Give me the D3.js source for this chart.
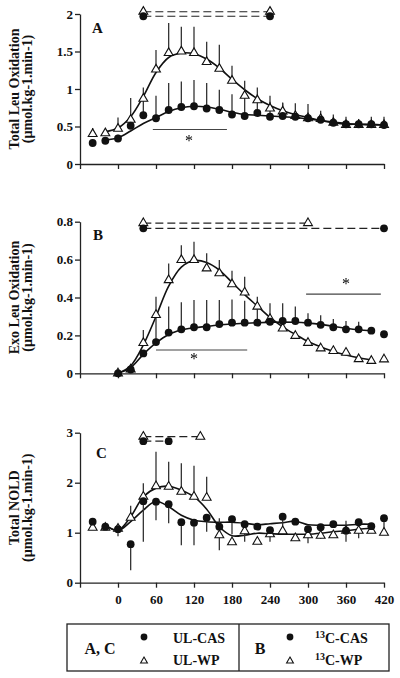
<!DOCTYPE html>
<html><head><meta charset="utf-8">
<script src="https://cdn.jsdelivr.net/npm/d3@7/dist/d3.min.js"></script>
<style>body{margin:0;background:#fff}svg{display:block}</style>
</head><body>
<svg id="c" width="400" height="678"><defs><filter id="gs" x="-50%" y="-50%" width="200%" height="200%"><feOffset dx="0" dy="0"/></filter></defs></svg>
<script>
// ---------- data ----------
const times  = [-40,-20,0,20,40,60,80,100,120,140,160,180,200,220,240,260,280,300,320,340,360,380,400,420];
const timesB = [0,20,40,60,80,100,120,140,160,180,200,220,240,260,280,300,320,340,360,380,400,420];
const fitTimesA = [-20,0,20,40,60,80,100,120,140,160,180,200,220,240,260,280,300,320,340,360,380,400,420];
const fitTimesB = [0,20,40,60,80,100,120,140,160,180,200,220,240,260,280,300,320,340,360,380,400];
const fitTimesC = [-20,0,20,40,60,80,100,120,140,160,180,200,220,240,260,280,300,320,340,360,380,400];
const xTicks = [-60,0,60,120,180,240,300,360,420];

// Panel A: Total Leu Oxidation
const casA    = [0.28,0.31,0.34,0.51,0.65,0.61,0.72,0.76,0.77,0.74,0.72,0.66,0.64,0.68,0.63,0.64,0.63,0.61,0.59,0.55,0.53,0.53,0.53,0.52];
const casAerr = [0,0,0.05,0.10,0.22,0.30,0.36,0.34,0.35,0.34,0.27,0.27,0.25,0.25,0.20,0.17,0.18,0.19,0.12,0.11,0.10,0.07,0.10,0.11];
const wpA     = [0.40,0.41,0.47,0.59,0.87,1.26,1.48,1.50,1.48,1.36,1.27,1.11,0.91,0.85,0.74,0.70,0.64,0.61,0.60,0.55,0.52,0.52,0.52,0.52];
const wpAerr  = [0.08,0,0.15,0.29,0.15,0.26,0.40,0.33,0.35,0.27,0.32,0.20,0.20,0.17,0.17,0.12,0,0,0,0,0,0,0,0];
const casAfit = [0.32,0.35,0.44,0.54,0.62,0.70,0.75,0.77,0.76,0.73,0.69,0.66,0.65,0.64,0.63,0.62,0.60,0.58,0.56,0.54,0.53,0.53,0.52];
const wpAfit  = [0.43,0.48,0.63,0.90,1.22,1.42,1.48,1.47,1.40,1.28,1.13,0.99,0.87,0.78,0.71,0.66,0.62,0.58,0.55,0.53,0.53,0.52,0.52];
const yTicksA = [0,0.5,1,1.5,2];

// Panel B: Exo Leu Oxidation
const casB    = [0,0.02,0.105,0.165,0.215,0.232,0.243,0.243,0.26,0.267,0.267,0.267,0.272,0.276,0.276,0.267,0.256,0.243,0.232,0.232,0.225,0.206];
const casBerr = [0,0,0,0.14,0.137,0.143,0.144,0.144,0.127,0.123,0.116,0.10,0.098,0.094,0.076,0.05,0.05,0.044,0.044,0.04,0,0];
const wpB     = [0,0.02,0.16,0.308,0.492,0.598,0.598,0.554,0.528,0.47,0.427,0.352,0.287,0.237,0.198,0.161,0.132,0.118,0.109,0.075,0.066,0.074];
const wpBerr  = [0,0,0.068,0.096,0.088,0.078,0.096,0.079,0.07,0.071,0.083,0.052,0,0,0,0,0,0,0,0,0,0];
const casBfit = [0,0.03,0.10,0.16,0.205,0.228,0.24,0.248,0.255,0.26,0.264,0.267,0.269,0.27,0.269,0.265,0.258,0.248,0.238,0.23,0.225];
const wpBfit  = [0,0.04,0.15,0.30,0.46,0.56,0.595,0.585,0.545,0.48,0.415,0.355,0.295,0.245,0.205,0.168,0.14,0.115,0.097,0.082,0.07];
const yTicksB = [0,0.2,0.4,0.6,0.8];

// Panel C: Total NOLD (signed errors: + up, - down)
const casC    = [1.22,1.12,1.07,0.77,1.63,1.62,1.57,1.21,1.20,1.30,1.12,1.27,1.17,1.12,1.05,1.32,1.22,1.07,1.11,1.17,1.04,1.21,1.13,1.29];
const casCerr = [0,0,-0.14,-0.52,-0.81,-0.37,-0.38,-0.46,-0.45,-0.28,0.17,-0.30,0,0,0,-0.25,0,0,0,0,0.20,0,0,-0.28];
const wpC     = [1.10,1.10,1.08,1.30,1.72,1.93,1.92,1.82,1.72,1.70,0.95,0.81,1.03,0.82,0.97,1.03,0.89,0.95,0.94,0.95,1.04,1.04,1.04,1.00];
const wpCerr  = [0,0.06,0,0.24,0.27,0.69,0.50,0.57,0.62,0.42,-0.30,0,-0.21,0,-0.15,0,0,-0.16,-0.06,0,-0.22,-0.15,0,0];
const casCfit = [1.15,1.04,1.22,1.45,1.63,1.52,1.35,1.25,1.22,1.21,1.21,1.19,1.16,1.18,1.20,1.23,1.16,1.15,1.15,1.15,1.17,1.17];
const wpCfit  = [1.15,1.05,1.32,1.72,1.89,1.93,1.85,1.72,1.47,1.12,0.94,0.95,0.99,0.98,0.97,0.97,0.97,0.99,1.02,1.04,1.07,1.09];
const yTicksC = [0,1,2,3];

// significance markers
const sigDashA = [{s:"wp",x0:40,x1:240,y:2.03},{s:"cas",x0:40,x1:240,y:1.97}];
const sigDashB = [{s:"wp",x0:40,x1:300,y:0.793},{s:"cas",x0:40,x1:420,y:0.765}];
const sigDashC = [{s:"wp",x0:40,x1:130,y:2.92},{s:"cas",x0:40,x1:80,y:2.83}];
const starA = [{x0:55,x1:172,y:0.46,sx:112,sy:0.31}];
const starB = [{x0:60,x1:204,y:0.123,sx:120,sy:0.08},{x0:297,x1:415,y:0.418,sx:360,sy:0.476}];

// ---------- drawing ----------
const FONT = "'Liberation Serif','Times New Roman',serif";
const svg = d3.select("#c");
const x = d3.scaleLinear().domain([-60,420]).range([80,384]);
const triSym = d3.symbol().type(d3.symbolTriangle).size(34);
const dotR = 3.9;

function panel(o){
  const y = d3.scaleLinear().domain(o.ydom).range(o.yrange);
  const g = svg.append("g");
  const ax = g.append("g").attr("transform",`translate(0,${o.yrange[0]})`)
    .call(d3.axisBottom(x).tickValues(xTicks).tickSize(5).tickSizeOuter(0).tickPadding(7)
      .tickFormat(d => o.xlabels && d>=0 ? d : ""));
  const ay = g.append("g").attr("transform","translate(80,0)")
    .call(d3.axisLeft(y).tickValues(o.yticks).tickSize(5).tickSizeOuter(0).tickPadding(2)
      .tickFormat(d => String(d)));
  [ax,ay].forEach(a=>{
    a.selectAll("path,line").attr("stroke","#222").attr("stroke-width",1.3);
    a.selectAll("text").attr("font-family",FONT).attr("font-weight","bold").attr("font-size",13).attr("fill","#111");
  });
  const cy = (o.yrange[0]+o.yrange[1])/2;
  const t = g.append("text").attr("transform",`translate(19,${cy}) rotate(-90)`)
    .attr("text-anchor","middle").attr("font-family",FONT).attr("font-weight","bold").attr("font-size",14).attr("fill","#111");
  t.append("tspan").attr("x",0).attr("y",0).text(o.title);
  t.append("tspan").attr("x",0).attr("y",13).text("(\u00b5mol.kg-1.min-1)");
  g.append("text").attr("x",o.lx).attr("y",o.ly).attr("font-family",FONT).attr("font-weight","bold")
    .attr("font-size",15).attr("fill","#111").text(o.label);
  const line = d3.line().x(d=>x(d[0])).y(d=>y(d[1])).curve(d3.curveCatmullRom.alpha(0.5));
  [[o.fitT,o.casFit],[o.fitT,o.wpFit]].forEach(([tt,vv])=>{
    g.append("path").attr("d",line(tt.map((t,i)=>[t,vv[i]]))).attr("fill","none").attr("stroke","#111").attr("stroke-width",1.6);
  });
  o.sigDash.forEach(s=>{
    g.append("line").attr("x1",x(s.x0)).attr("x2",x(s.x1)).attr("y1",y(s.y)).attr("y2",y(s.y))
      .attr("stroke","#222").attr("stroke-width",1.2).attr("stroke-dasharray","8,4");
  });
  (o.stars||[]).forEach(s=>{
    g.append("line").attr("x1",x(s.x0)).attr("x2",x(s.x1)).attr("y1",y(s.y)).attr("y2",y(s.y))
      .attr("stroke","#444").attr("stroke-width",1.2);
    g.append("g").attr("filter","url(#gs)").append("text").attr("x",x(s.sx)).attr("y",y(s.sy)).attr("text-anchor","middle").attr("dominant-baseline","central")
      .attr("font-family",FONT).attr("font-size",16).attr("fill","#000").text("*");
  });
  [[o.cas,o.casErr],[o.wp,o.wpErr]].forEach(([vv,ee])=>{
    g.append("g").selectAll("line").data(o.t.map((t,i)=>({t,v:vv[i],e:ee[i]})).filter(d=>d.e!==0))
      .join("line").attr("x1",d=>x(d.t)).attr("x2",d=>x(d.t)).attr("y1",d=>y(d.v)).attr("y2",d=>y(d.v+d.e))
      .attr("stroke","#333").attr("stroke-width",1.3);
  });
  const casPts = o.t.map((t,i)=>[t,o.cas[i]]);
  const wpPts = o.t.map((t,i)=>[t,o.wp[i]]);
  o.sigDash.forEach(s=>{
    (s.s==="cas"?casPts:wpPts).push([s.x0,s.y],[s.x1,s.y]);
  });
  g.append("g").selectAll("path").data(wpPts).join("path").attr("d",triSym)
    .attr("transform",d=>`translate(${x(d[0])},${y(d[1])})`).attr("fill","#fff").attr("stroke","#111").attr("stroke-width",1.1);
  g.append("g").selectAll("circle").data(casPts).join("circle")
    .attr("cx",d=>x(d[0])).attr("cy",d=>y(d[1])).attr("r",dotR).attr("fill","#111");
}

panel({ydom:[0,2],yrange:[164,14],yticks:yTicksA,xlabels:false,title:"Total Leu Oxidation",label:"A",lx:92,ly:32.5,
  t:times,cas:casA,casErr:casAerr,wp:wpA,wpErr:wpAerr,fitT:fitTimesA,casFit:casAfit,wpFit:wpAfit,sigDash:sigDashA,stars:starA});
panel({ydom:[0,0.8],yrange:[373.3,221.7],yticks:yTicksB,xlabels:false,title:"Exo Leu Oxidation",label:"B",lx:93,ly:240,
  t:timesB,cas:casB,casErr:casBerr,wp:wpB,wpErr:wpBerr,fitT:fitTimesB,casFit:casBfit,wpFit:wpBfit,sigDash:sigDashB,stars:starB});
panel({ydom:[0,3],yrange:[582.7,432.7],yticks:yTicksC,xlabels:true,title:"Total NOLD",label:"C",lx:96,ly:458,
  t:times,cas:casC,casErr:casCerr,wp:wpC,wpErr:wpCerr,fitT:fitTimesC,casFit:casCfit,wpFit:wpCfit,sigDash:sigDashC,stars:[]});

// ---------- legend ----------
const L = svg.append("g");
L.append("rect").attr("x",67).attr("y",624).attr("width",322).attr("height",47).attr("fill","none").attr("stroke","#222").attr("stroke-width",1.3);
L.append("line").attr("x1",239).attr("x2",239).attr("y1",624).attr("y2",671).attr("stroke","#222").attr("stroke-width",1.3);
const legGroups = [{head:"A, C",hx:100,mx:144,tx:173,items:["UL-CAS","UL-WP"],sup:false},
                   {head:"B",hx:260,mx:290,tx:315,items:["C-CAS","C-WP"],sup:true}];
legGroups.forEach(lg=>{
  L.append("text").attr("x",lg.hx).attr("y",653.5).attr("text-anchor","middle").attr("font-family",FONT)
    .attr("font-weight","bold").attr("font-size",16).attr("fill","#111").text(lg.head);
  L.append("circle").attr("cx",lg.mx).attr("cy",637).attr("r",3.4).attr("fill","#111");
  L.append("path").attr("d",d3.symbol().type(d3.symbolTriangle).size(20)()).attr("transform",`translate(${lg.mx},661)`)
    .attr("fill","#fff").attr("stroke","#111").attr("stroke-width",1.1);
  lg.items.forEach((it,i)=>{
    const tx = L.append("text").attr("x",lg.tx).attr("y",i===0?643:665).attr("font-family",FONT)
      .attr("font-weight","bold").attr("font-size",14).attr("fill","#111");
    if(lg.sup){
      tx.append("tspan").attr("font-size",10).attr("dy",-5).text("13");
      tx.append("tspan").attr("dy",5).text(it);
    } else tx.text(it);
  });
});
</script>
</body></html>
